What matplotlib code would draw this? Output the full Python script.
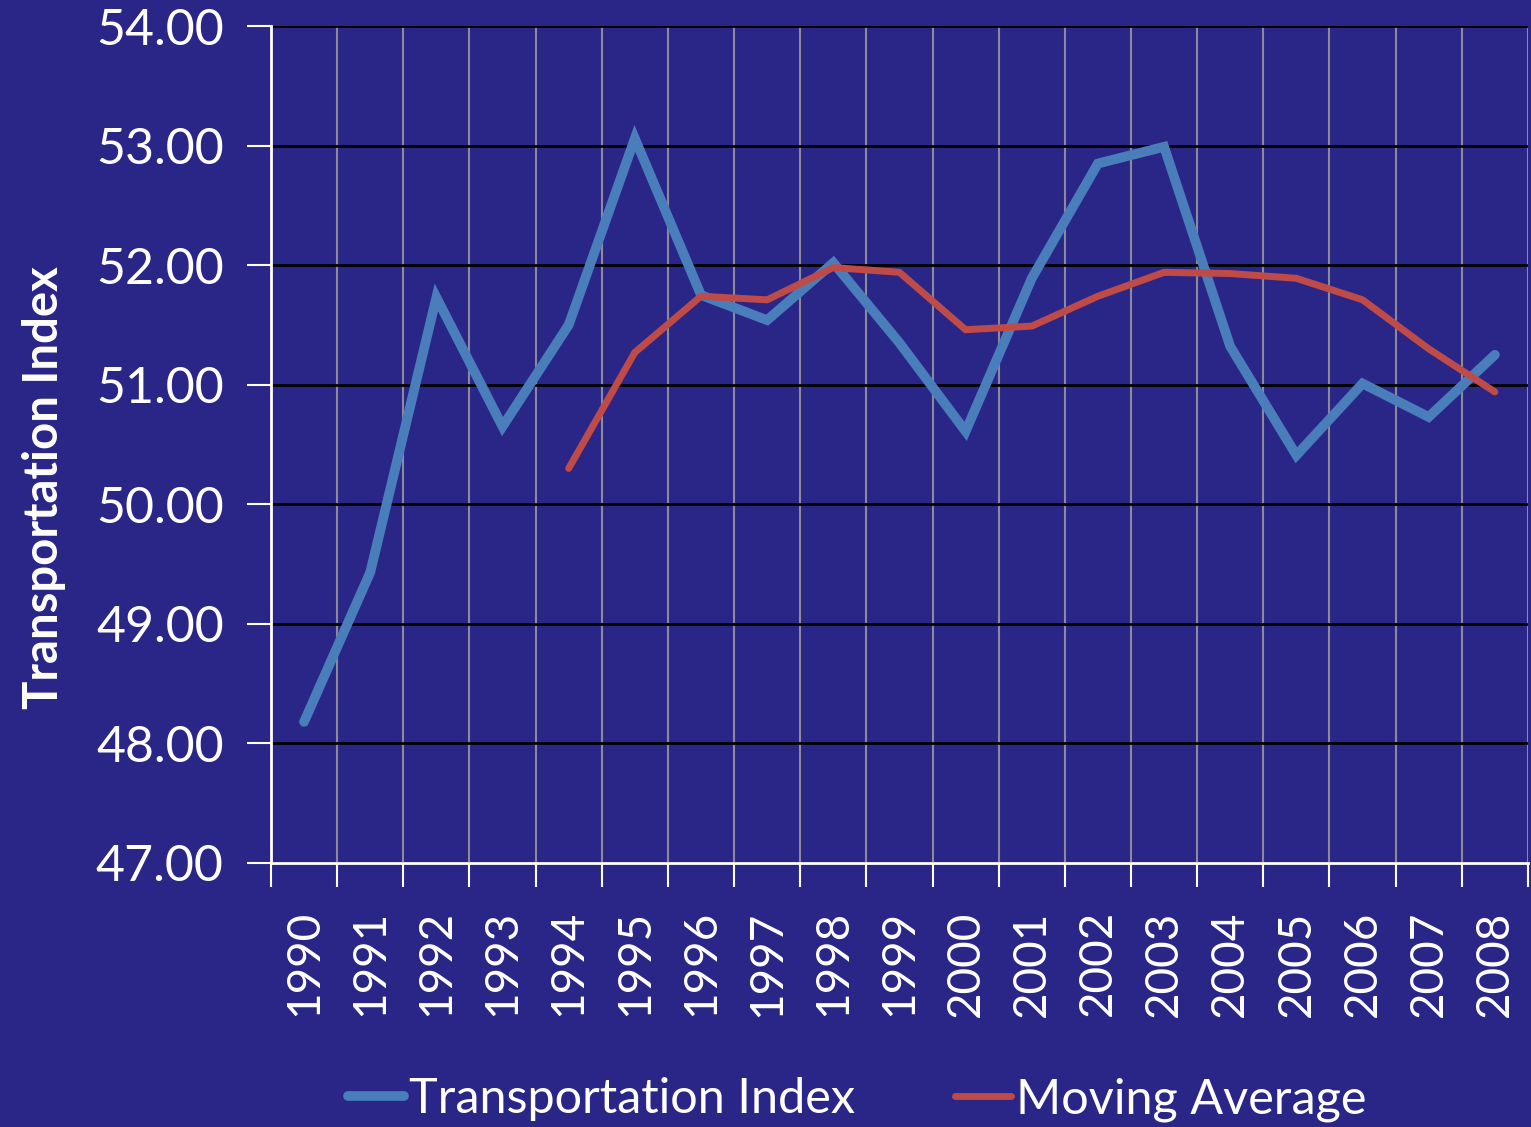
import matplotlib
matplotlib.use("Agg")
import matplotlib.pyplot as plt

# datos
years = [str(y) for y in range(1990, 2009)]
transport_index = [48.18, 49.43, 51.73, 50.65, 51.50, 53.06, 51.75, 51.54, 52.02, 51.35,
                   50.61, 51.89, 52.85, 52.99, 51.32, 50.41, 51.01, 50.73, 51.25]
moving_avg_years = years[4:]
moving_avg = [50.30, 51.27, 51.74, 51.71, 51.98, 51.94, 51.46, 51.49, 51.74, 51.94,
              51.93, 51.89, 51.71, 51.30, 50.94]
y_ticks = [47, 48, 49, 50, 51, 52, 53, 54]

bg = "#2A2688"
plt.rcParams['font.family'] = ['Lato', 'DejaVu Sans']

fig = plt.figure(figsize=(15.31, 11.27), dpi=100, facecolor=bg)
ax = fig.add_axes([0.177, 0.2343, 0.821, 0.7426], facecolor=bg)

x_all = list(range(len(years)))
x_ma = x_all[4:]
ax.plot(x_all, transport_index, color="#4A7EBB", lw=7, solid_capstyle="round",
        solid_joinstyle="miter", label="Transportation Index", zorder=3)
ax.plot(x_ma, moving_avg, color="#BE4B48", lw=5, solid_capstyle="round",
        solid_joinstyle="miter", label="Moving Average", zorder=3)

ax.set_xlim(-0.5, len(years) - 0.5)
ax.set_ylim(47, 54)
ax.set_yticks(y_ticks)
ax.set_yticklabels([f"{v:.2f}" for v in y_ticks])

# etiquetas en el centro, ticks en los bordes
ax.set_xticks(x_all)
ax.set_xticklabels(years, rotation=90)
ax.set_xticks([i - 0.5 for i in range(len(years) + 1)], minor=True)
ax.tick_params(axis="x", which="major", length=0, pad=34, labelsize=33, colors="white")
ax.tick_params(axis="x", which="minor", length=17, width=1.5, color="white")
ax.tick_params(axis="y", length=17, width=1.5, color="white", labelsize=36,
               labelcolor="white", pad=17)

ax.grid(axis="y", color="black", lw=2)
ax.grid(axis="x", which="minor", color="#8A8A9A", lw=1.5)
ax.set_axisbelow(True)

for s in ["top", "right"]:
    ax.spines[s].set_visible(False)
ax.spines["left"].set_color("white")
ax.spines["bottom"].set_color("white")
ax.spines["left"].set_linewidth(2)
ax.spines["bottom"].set_linewidth(2)

ax.set_ylabel("Transportation Index", fontsize=34, fontweight="bold", color="white")
ax.yaxis.set_label_coords(-0.163, 0.448)

leg = fig.legend(loc="lower center", bbox_to_anchor=(0.56, -0.034), ncol=2, frameon=False,
                 fontsize=35, handlelength=1.15, handletextpad=0.1, columnspacing=2.05)
for t in leg.get_texts():
    t.set_color("white")

fig.savefig("out.png", dpi=100, facecolor=bg)
